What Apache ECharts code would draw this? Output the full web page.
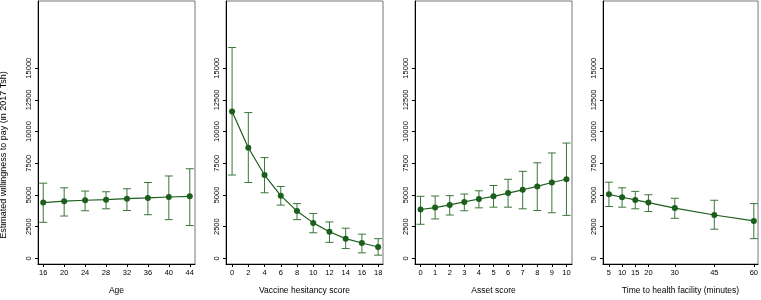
<!DOCTYPE html>
<html>
<head>
<meta charset="utf-8">
<script src="https://cdn.jsdelivr.net/npm/echarts@6/dist/echarts.min.js"></script>
<style>
  html, body { margin: 0; padding: 0; background: #fff; }
  #container { width: 761px; height: 300px; }
</style>
</head>
<body>
<div id="container"></div>
<script>
// panel 1: age
var ageX = [16, 20, 24, 28, 32, 36, 40, 44];
var ageEst = [4400, 4510, 4585, 4630, 4710, 4765, 4840, 4895];
var ageLo = [2845, 3340, 3755, 3910, 3775, 3445, 3055, 2590];
var ageHi = [5930, 5565, 5310, 5255, 5490, 5985, 6500, 7070];

// panel 2: vaccine hesitancy score
var vhsX = [0, 2, 4, 6, 8, 10, 12, 14, 16, 18];
var vhsEst = [11580, 8730, 6575, 4945, 3730, 2800, 2100, 1555, 1210, 900];
var vhsLo = [6575, 5985, 5175, 4200, 3055, 2020, 1265, 775, 435, 255];
var vhsHi = [16630, 11500, 7950, 5675, 4320, 3545, 2875, 2380, 1910, 1555];

// panel 3: asset score
var assetX = [0, 1, 2, 3, 4, 5, 6, 7, 8, 9, 10];
var assetEst = [3855, 4010, 4220, 4455, 4685, 4895, 5150, 5410, 5675, 5985, 6240];
var assetLo = [2690, 3110, 3420, 3755, 3985, 4040, 4040, 3910, 3775, 3600, 3390];
var assetHi = [4895, 4920, 4945, 5075, 5330, 5750, 6240, 6865, 7540, 8315, 9095];

// panel 4: time to health facility
var timeX = [5, 10, 15, 20, 30, 45, 60];
var timeEst = [5050, 4820, 4610, 4400, 3965, 3420, 2955];
var timeLo = [4090, 4040, 3910, 3700, 3160, 2300, 1555];
var timeHi = [6010, 5565, 5285, 5020, 4740, 4585, 4320];

var yTicks = [0, 2500, 5000, 7500, 10000, 12500, 15000];

var panels = [
  { name: 'Age', x: ageX, est: ageEst, lo: ageLo, hi: ageHi, min: 15, max: 45, left: 38 },
  { name: 'Vaccine hesitancy score', x: vhsX, est: vhsEst, lo: vhsLo, hi: vhsHi, min: -0.75, max: 18.6, left: 226 },
  { name: 'Asset score', x: assetX, est: assetEst, lo: assetLo, hi: assetHi, min: -0.38, max: 10.38, left: 415 },
  { name: 'Time to health facility (minutes)', x: timeX, est: timeEst, lo: timeLo, hi: timeHi, min: 2.75, max: 61.6, left: 603 }
];

var lineColor = '#1c5e1c';
var barColor = '#3b753b';
var font = 'Liberation Sans, Arial, Helvetica, sans-serif';

var grids = [], xAxes = [], yAxes = [], series = [];

panels.forEach(function (p, i) {
  grids.push({
    left: p.left, width: 157, top: 1, bottom: 32,
    show: true, borderColor: '#777', borderWidth: 1, backgroundColor: '#fff'
  });
  xAxes.push({
    gridIndex: i, type: 'value', min: p.min, max: p.max,
    name: p.name, nameLocation: 'middle', nameGap: 22,
    nameTextStyle: { fontFamily: font, fontSize: 8.5, color: '#000' },
    axisLine: { onZero: false, lineStyle: { color: '#000', width: 1 } },
    axisTick: { length: 3, customValues: p.x, lineStyle: { color: '#000' } },
    axisLabel: { customValues: p.x, margin: 5, fontFamily: font, fontSize: 7.5, color: '#000' },
    splitLine: { show: false }
  });
  yAxes.push({
    gridIndex: i, type: 'value', min: -443, max: 20300,
    axisLine: { show: true, onZero: false, lineStyle: { color: '#000', width: 1 } },
    axisTick: { show: true, length: 3, customValues: yTicks, lineStyle: { color: '#000' } },
    axisLabel: {
      customValues: yTicks, rotate: 90, margin: 5, fontFamily: font, fontSize: 7.5, color: '#000',
      formatter: function (v) { return String(v); }
    },
    splitLine: { show: false }
  });
  series.push({
    type: 'custom',
    xAxisIndex: i, yAxisIndex: i,
    data: p.x.map(function (x, k) { return [x, p.lo[k], p.hi[k]]; }),
    renderItem: function (params, api) {
      var a = api.coord([api.value(0), api.value(1)]);
      var b = api.coord([api.value(0), api.value(2)]);
      var s = { stroke: barColor, lineWidth: 1 };
      return {
        type: 'group',
        children: [
          { type: 'line', shape: { x1: a[0], y1: a[1], x2: b[0], y2: b[1] }, style: s },
          { type: 'line', shape: { x1: a[0] - 4, y1: a[1], x2: a[0] + 4, y2: a[1] }, style: s },
          { type: 'line', shape: { x1: b[0] - 4, y1: b[1], x2: b[0] + 4, y2: b[1] }, style: s }
        ]
      };
    },
    z: 2, silent: true
  });
  series.push({
    type: 'line',
    xAxisIndex: i, yAxisIndex: i,
    data: p.x.map(function (x, k) { return [x, p.est[k]]; }),
    symbol: 'circle', symbolSize: 6,
    lineStyle: { color: lineColor, width: 1.2 },
    itemStyle: { color: lineColor },
    z: 3, silent: true
  });
});

var myChart = echarts.init(document.getElementById('container'), null, { renderer: 'canvas' });
myChart.setOption({
  animation: false,
  grid: grids,
  xAxis: xAxes,
  yAxis: yAxes,
  series: series,
  graphic: [{
    type: 'text',
    x: 4, y: 155, rotation: Math.PI / 2,
    style: {
      text: 'Estimated willingness to pay (in 2017 Tsh)',
      font: '9px Liberation Sans, Arial, sans-serif',
      fill: '#000', align: 'center', verticalAlign: 'middle'
    }
  }]
});
</script>
</body>
</html>
